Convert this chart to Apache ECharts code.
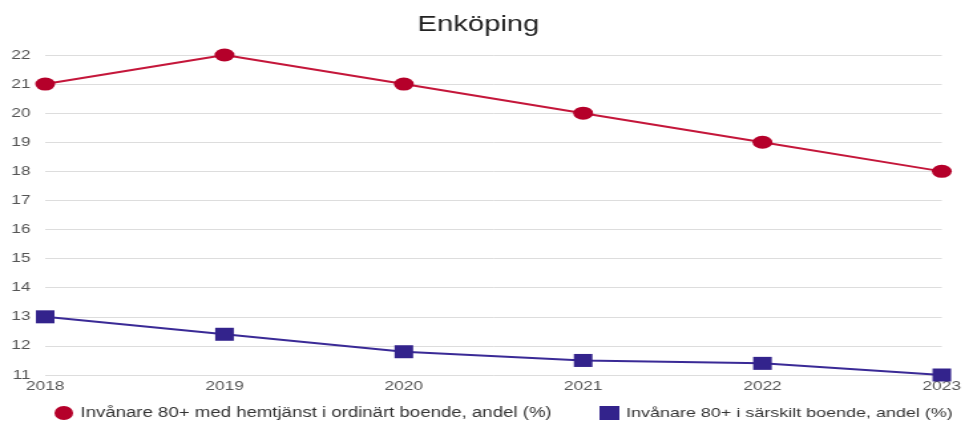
<!DOCTYPE html>
<html><head><meta charset="utf-8">
<script src="https://cdn.jsdelivr.net/npm/echarts@6/dist/echarts.min.js"></script>
<style>html,body{margin:0;padding:0;background:#fff;overflow:hidden}
#wrap{width:965px;height:421px;overflow:hidden}
#c{width:726px;height:421px;transform:scaleX(1.3292);transform-origin:0 0}</style>
</head><body><div id="wrap"><div id="c"></div></div>
<script>
const years = ['2018','2019','2020','2021','2022','2023'];
const hemtjanst = [21, 22, 21, 20, 19, 18];
const sarskilt = [13, 12.4, 11.8, 11.5, 11.4, 11.0];
const seriesNames = ['Invånare 80+ med hemtjänst i ordinärt boende, andel (%)', 'Invånare 80+ i särskilt boende, andel (%)'];
const chart = echarts.init(document.getElementById('c'));
chart.setOption({
  animation: false,
  textStyle: {fontFamily: 'Liberation Sans, Arial, sans-serif'},
  title: {text: 'Enköping', left: 309, top: 9, textStyle: {fontSize: 22, fontWeight: 'normal', color: '#222'}},
  grid: {left: 34, right: 13, top: 55, bottom: 46},
  legend: [
    {left: 36, bottom: -4, padding: [5, 0, 5, 5], itemWidth: 15, itemHeight: 14, textStyle: {fontSize: 14, color: '#333'},
     data: [{name: seriesNames[0], icon: 'circle'}]},
    {left: 446, bottom: -4, padding: [5, 0, 5, 5], itemWidth: 15, itemHeight: 14, textStyle: {fontSize: 13.5, color: '#333'},
     data: [{name: seriesNames[1], icon: 'rect'}]}
  ],
  xAxis: {
    type: 'category', data: years, boundaryGap: false,
    axisLine: {show: false}, axisTick: {show: false},
    axisLabel: {color: '#555', fontSize: 13, margin: 5}
  },
  yAxis: {
    type: 'value', min: 11, max: 22, interval: 1,
    axisLabel: {color: '#555', fontSize: 13, margin: 11},
    splitLine: {lineStyle: {color: '#ddd'}}
  },
  series: [
    {name: seriesNames[0], type: 'line', data: hemtjanst, symbol: 'circle', symbolSize: [15, 13],
     itemStyle: {color: '#b5002a'}, lineStyle: {width: 2, color: '#c4163a'}},
    {name: seriesNames[1], type: 'line', data: sarskilt, symbol: 'rect', symbolSize: [14, 13],
     itemStyle: {color: '#33238c'}, lineStyle: {width: 2, color: '#3a2a96'}}
  ]
});
</script></body></html>
